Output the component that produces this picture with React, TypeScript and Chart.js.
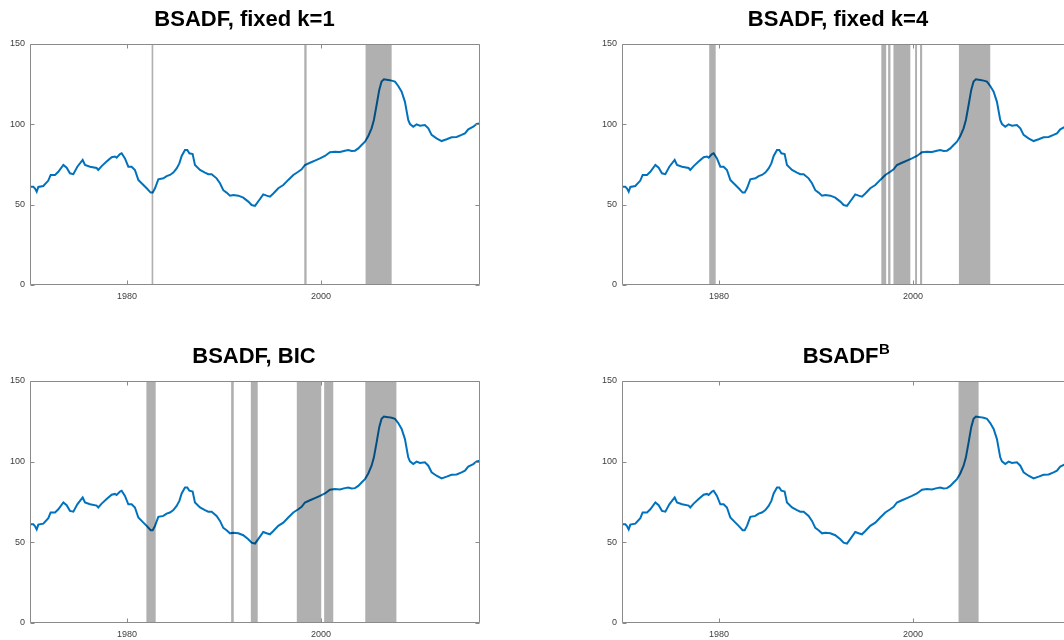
import React, { useEffect, useRef } from "react";
import { Chart, registerables } from "chart.js";

Chart.register(...registerables);

// ---- data ----
const years = [
  1970.0, 1970.34, 1970.52, 1970.69, 1970.86, 1971.37, 1971.89, 1972.13, 1972.58, 1972.92,
  1973.44, 1973.78, 1974.12, 1974.47, 1974.88, 1975.43, 1975.67, 1976.19, 1976.87, 1977.04,
  1977.39, 1977.9, 1978.42, 1978.76, 1978.93, 1979.28, 1979.45, 1979.79, 1980.14, 1980.48,
  1980.82, 1981.17, 1981.51, 1982.03, 1982.44, 1982.65, 1982.89, 1983.23, 1983.75, 1984.09,
  1984.43, 1984.78, 1985.12, 1985.4, 1985.64, 1985.98, 1986.22, 1986.43, 1986.77, 1987.01,
  1987.53, 1988.04, 1988.38, 1988.73, 1989.24, 1989.59, 1989.93, 1990.27, 1990.62, 1990.96,
  1991.48, 1991.99, 1992.51, 1992.85, 1993.2, 1993.64, 1994.05, 1994.4, 1994.74, 1995.09,
  1995.6, 1996.12, 1996.63, 1997.15, 1997.66, 1998.01, 1998.35, 1998.87, 1999.38, 1999.9,
  2000.41, 2000.93, 2001.44, 2001.96, 2002.47, 2002.82, 2003.16, 2003.51, 2003.85, 2004.19,
  2004.54, 2004.88, 2005.22, 2005.46, 2005.74, 2006.01, 2006.25, 2006.49, 2006.94, 2007.29,
  2007.63, 2007.97, 2008.32, 2008.66, 2009.0, 2009.18, 2009.52, 2009.86, 2010.21, 2010.72,
  2011.07, 2011.41, 2011.92, 2012.44, 2012.96, 2013.47, 2013.99, 2014.5, 2014.85, 2015.19,
  2015.71, 2016.05, 2016.39,
];
const priceIndex = [
  61.2, 61.2, 60.0, 58.0, 61.0, 61.6, 65.0, 68.5, 68.5, 70.5,
  74.7, 73.0, 69.5, 69.0, 73.6, 77.8, 74.7, 73.6, 72.8, 71.6,
  74.0, 76.8, 79.5, 80.0, 79.3, 81.5, 82.0, 78.8, 73.6, 73.6,
  71.6, 65.4, 63.3, 60.2, 57.5, 57.5, 60.2, 65.8, 66.4, 67.8,
  68.5, 70.0, 72.6, 75.7, 80.3, 84.0, 84.0, 82.0, 81.5, 74.7,
  71.6, 70.0, 69.0, 69.0, 66.4, 63.3, 59.0, 57.5, 55.6, 56.0,
  55.6, 54.4, 51.9, 49.8, 49.2, 52.9, 56.4, 55.6, 55.0, 57.0,
  60.2, 62.2, 65.4, 68.5, 70.5, 72.0, 74.7, 76.1, 77.4, 78.8,
  80.3, 82.6, 83.0, 82.8, 83.6, 84.0, 83.4, 83.6, 85.0, 87.1,
  89.2, 92.7, 97.5, 102.7, 112.0, 121.4, 126.6, 128.0, 127.6, 127.2,
  126.6, 123.9, 120.3, 114.0, 102.7, 100.2, 98.5, 100.0, 99.2, 99.6,
  97.5, 93.4, 91.3, 89.6, 90.7, 91.9, 92.1, 93.4, 94.4, 96.9,
  98.5, 100.2, 100.6,
];

const xTicks = [1980, 2000];
const yTicks = [0, 50, 100, 150];

const k1Start = [1982.54, 1998.28, 2004.6];
const k1End = [1982.71, 1998.52, 2007.29];

const k4Start = [1978.99, 1996.74, 1997.44, 1997.99, 2000.22, 2000.73, 2004.74];
const k4End = [1979.66, 1997.24, 1997.68, 1999.73, 2000.42, 2000.95, 2007.97];

const bicStart = [1982.0, 1990.74, 1992.77, 1997.51, 2000.33, 2004.57];
const bicEnd = [1982.96, 1991.01, 1993.48, 2000.03, 2001.27, 2007.78];

const bStart = [2004.7];
const bEnd = [2006.77];

const FONT = '"Liberation Sans", Arial, Helvetica, sans-serif';

type PanelProps = {
  left: number;
  top: number;
  plotH: number;
  title: string;
  sup?: string;
  titleOffset: number;
  starts: number[];
  ends: number[];
};

const PAD_TOP = 44;
const AXIS_W = 30;
const AXIS_H = 25;
const PLOT_W = 450;
const PAD_RIGHT = 10;

function Panel({ left, top, plotH, title, sup, titleOffset, starts, ends }: PanelProps) {
  const ref = useRef<HTMLCanvasElement | null>(null);
  const width = AXIS_W + PLOT_W + PAD_RIGHT;
  const height = PAD_TOP + plotH + AXIS_H;

  useEffect(() => {
    if (!ref.current) return;

    const bandsPlugin = {
      id: "bands",
      afterDatasetsDraw(chart: any) {
        const { ctx, chartArea, scales } = chart;
        ctx.save();
        ctx.beginPath();
        ctx.rect(chartArea.left, chartArea.top, chartArea.right - chartArea.left, chartArea.bottom - chartArea.top);
        ctx.clip();
        ctx.fillStyle = "rgba(0,0,0,0.31)";
        for (let i = 0; i < starts.length; i++) {
          const x0 = scales.x.getPixelForValue(starts[i]);
          const x1 = scales.x.getPixelForValue(ends[i]);
          ctx.fillRect(x0, chartArea.top, x1 - x0, chartArea.bottom - chartArea.top);
        }
        ctx.restore();
      },
    };

    const framePlugin = {
      id: "frame",
      afterDraw(chart: any) {
        const { ctx, chartArea, scales } = chart;
        const l = Math.round(chartArea.left) + 0.5;
        const r = Math.round(chartArea.right) - 0.5;
        const t = Math.round(chartArea.top) + 0.5;
        const b = Math.round(chartArea.bottom) - 0.5;
        ctx.save();
        ctx.strokeStyle = "#8a8a8a";
        ctx.lineWidth = 1;
        ctx.beginPath();
        ctx.moveTo(l, t);
        ctx.lineTo(r, t);
        ctx.lineTo(r, b);
        ctx.lineTo(l, b);
        ctx.closePath();
        const tl = 4;
        xTicks.forEach((v) => {
          const px = Math.round(scales.x.getPixelForValue(v)) + 0.5;
          ctx.moveTo(px, b);
          ctx.lineTo(px, b - tl);
          ctx.moveTo(px, t);
          ctx.lineTo(px, t + tl);
        });
        yTicks.forEach((v) => {
          const py = Math.round(scales.y.getPixelForValue(v)) + 0.5;
          ctx.moveTo(l, py);
          ctx.lineTo(l + tl, py);
          ctx.moveTo(r, py);
          ctx.lineTo(r - tl, py);
        });
        ctx.stroke();

        // title
        const cx = chartArea.left + titleOffset;
        const baseY = chartArea.top - 18;
        ctx.fillStyle = "#000";
        ctx.textBaseline = "alphabetic";
        ctx.font = `bold 22px ${FONT}`;
        if (sup) {
          const w1 = ctx.measureText(title).width;
          ctx.font = `bold 15px ${FONT}`;
          const w2 = ctx.measureText(sup).width;
          const x0 = cx - (w1 + w2) / 2;
          ctx.textAlign = "left";
          ctx.font = `bold 22px ${FONT}`;
          ctx.fillText(title, x0, baseY);
          ctx.font = `bold 15px ${FONT}`;
          ctx.fillText(sup, x0 + w1 + 0.5, baseY - 9);
        } else {
          ctx.textAlign = "center";
          ctx.fillText(title, cx, baseY);
        }
        ctx.restore();
      },
    };

    const chart = new Chart(ref.current, {
      type: "line",
      data: {
        datasets: [
          {
            data: years.map((x, i) => ({ x, y: priceIndex[i] })),
            borderColor: "#0072BD",
            borderWidth: 2,
            pointRadius: 0,
            fill: false,
            tension: 0,
          },
        ],
      },
      options: {
        animation: false,
        responsive: false,
        maintainAspectRatio: false,
        layout: { padding: { top: PAD_TOP, right: PAD_RIGHT, left: 0, bottom: 0 } },
        plugins: {
          legend: { display: false },
          tooltip: { enabled: false },
          title: { display: false },
        },
        scales: {
          x: {
            type: "linear",
            min: 1970,
            max: 2016.4,
            afterBuildTicks: (s: any) => {
              s.ticks = xTicks.map((v) => ({ value: v }));
            },
            afterFit: (s: any) => {
              s.height = AXIS_H;
            },
            grid: { display: false, drawTicks: false },
            border: { display: false },
            ticks: {
              font: { family: FONT, size: 9 },
              color: "#404040",
              padding: 6,
              maxRotation: 0,
              autoSkip: false,
              callback: (v: any) => String(v),
            },
          },
          y: {
            type: "linear",
            min: 0,
            max: 150,
            afterBuildTicks: (s: any) => {
              s.ticks = yTicks.map((v) => ({ value: v }));
            },
            afterFit: (s: any) => {
              s.width = AXIS_W;
            },
            grid: { display: false, drawTicks: false },
            border: { display: false },
            ticks: {
              font: { family: FONT, size: 9 },
              color: "#404040",
              padding: 5,
              autoSkip: false,
              callback: (v: any) => String(v),
            },
          },
        },
      },
      plugins: [bandsPlugin, framePlugin],
    } as any);

    return () => chart.destroy();
  }, []);

  return (
    <canvas
      ref={ref}
      width={width}
      height={height}
      style={{ position: "absolute", left, top, width, height }}
    />
  );
}

export default function App() {
  return (
    <div
      style={{
        position: "absolute",
        left: 0,
        top: 0,
        width: 1064,
        height: 640,
        overflow: "hidden",
        background: "#fff",
      }}
    >
      <Panel left={0} top={0} plotH={241} title="BSADF, fixed k=1" titleOffset={214.5} starts={k1Start} ends={k1End} />
      <Panel left={592} top={0} plotH={241} title="BSADF, fixed k=4" titleOffset={216} starts={k4Start} ends={k4End} />
      <Panel left={0} top={337} plotH={242} title="BSADF, BIC" titleOffset={224} starts={bicStart} ends={bicEnd} />
      <Panel left={592} top={337} plotH={242} title="BSADF" sup="B" titleOffset={224} starts={bStart} ends={bEnd} />
    </div>
  );
}
